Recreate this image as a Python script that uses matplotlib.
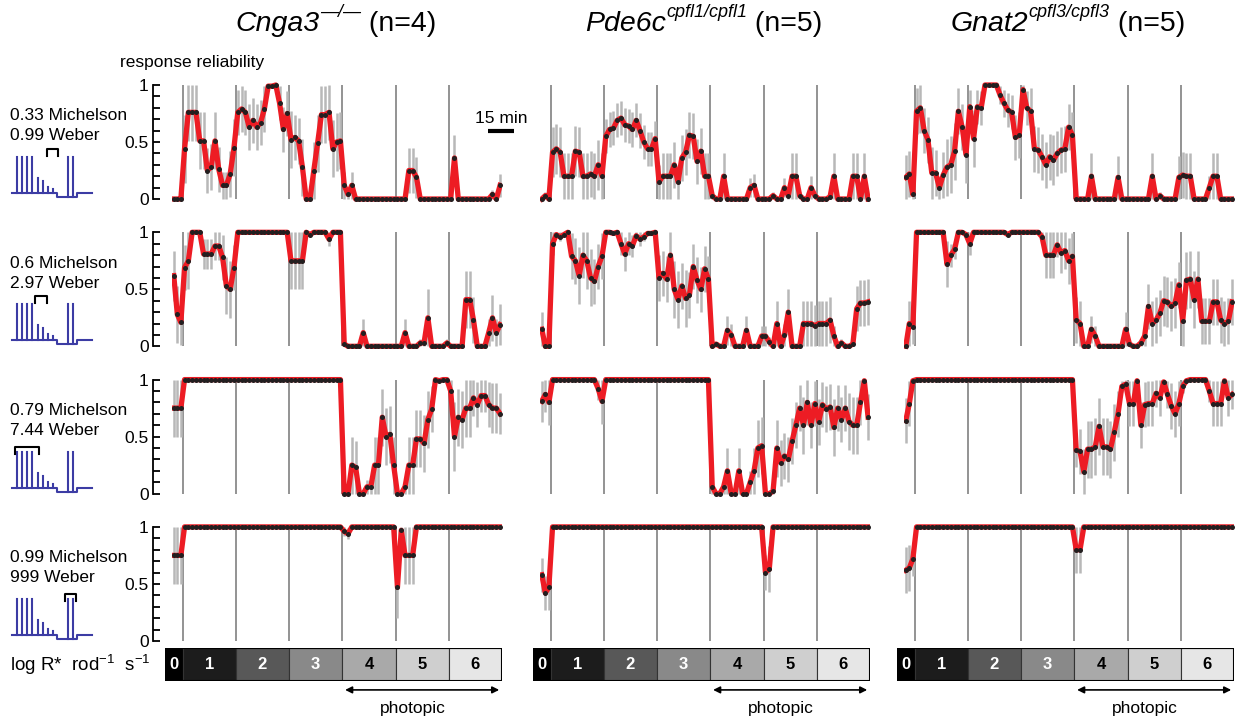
import numpy as np
import matplotlib
matplotlib.use('Agg')
import matplotlib.pyplot as plt
from matplotlib.patches import Rectangle

plt.rcParams['font.family'] = ['Liberation Sans', 'DejaVu Sans']
plt.rcParams['mathtext.fontset'] = 'custom'
plt.rcParams['mathtext.rm'] = 'Liberation Sans'
plt.rcParams['mathtext.it'] = 'Liberation Sans:italic'

# light levels (log R* rod-1 s-1) and minutes spent at each
levels = [0, 1, 2, 3, 4, 5, 6]
level_minutes = [6, 30, 30, 30, 30, 30, 30]
level_colors = ['#000000', '#1c1c1c', '#585858', '#898989', '#a9a9a9', '#cfcfcf', '#e6e6e6']
level_text = ['white', 'white', 'white', 'white', 'black', 'black', 'black']

genotypes = ['Cnga3', 'Pde6c', 'Gnat2']
superscripts = ['\u2014/\u2014', 'cpfl1/cpfl1', 'cpfl3/cpfl3']
n_animals = [4, 5, 5]
michelson = ['0.33', '0.6', '0.79', '0.99']
weber = ['0.99', '2.97', '7.44', '999']

ONES = [1, 1, 1, 1, 1, 1, 1, 1, 1, 1, 1, 1, 1, 1]
ZEROS = [0, 0, 0, 0, 0, 0, 0, 0, 0, 0, 0, 0, 0, 0]

# ---- response reliability, one list per light level ----
# row 1 : 0.33 Michelson
cnga3_rel_1 = [[0, 0, 0],
               [0.44, 0.76, 0.76, 0.76, 0.51, 0.51, 0.25, 0.28, 0.51, 0.26, 0.12, 0.12, 0.22, 0.45],
               [0.76, 0.79, 0.76, 0.63, 0.69, 0.63, 0.67, 0.79, 0.99, 0.99, 1.0, 0.84, 0.61, 0.75],
               [0.52, 0.54, 0.51, 0.28, 0, 0, 0.25, 0.49, 0.74, 0.74, 0.76, 0.44, 0.50, 0.51],
               [0.12, 0.04, 0.12, 0, 0, 0, 0, 0, 0, 0, 0, 0, 0, 0],
               [0, 0, 0, 0.25, 0.25, 0.19, 0, 0, 0, 0, 0, 0, 0, 0],
               [0, 0.36, 0, 0, 0, 0, 0, 0, 0, 0, 0, 0.04, 0, 0.12]]
cnga3_sem_1 = [[0, 0, 0],
               [0.3, 0.25, 0.25, 0.25, 0.25, 0.25, 0.2, 0.2, 0.25, 0.2, 0.12, 0.12, 0.2, 0.25],
               [0.2, 0.2, 0.2, 0.2, 0.2, 0.2, 0.2, 0.2, 0.02, 0.02, 0, 0.15, 0.2, 0.2],
               [0.25, 0.2, 0.2, 0.25, 0, 0, 0.25, 0.25, 0.25, 0.25, 0.24, 0.25, 0.25, 0.25],
               [0.12, 0.04, 0.12, 0, 0, 0, 0, 0, 0, 0, 0, 0, 0, 0],
               [0, 0, 0, 0.2, 0.2, 0.18, 0, 0, 0, 0, 0, 0, 0, 0],
               [0, 0.2, 0, 0, 0, 0, 0, 0, 0, 0, 0, 0.04, 0, 0.1]]
pde6c_rel_1 = [[0, 0.03, 0],
               [0.41, 0.44, 0.41, 0.2, 0.2, 0.2, 0.42, 0.41, 0.2, 0.2, 0.22, 0.2, 0.30, 0.2],
               [0.55, 0.61, 0.62, 0.69, 0.71, 0.65, 0.64, 0.61, 0.69, 0.60, 0.5, 0.44, 0.44, 0.53],
               [0.15, 0.2, 0.2, 0.2, 0.30, 0.15, 0.36, 0.41, 0.56, 0.55, 0.33, 0.42, 0.2, 0.2],
               [0.03, 0, 0, 0.2, 0, 0, 0, 0, 0, 0, 0.1, 0.12, 0, 0],
               [0, 0, 0.03, 0, 0, 0.1, 0.03, 0.2, 0.2, 0.03, 0, 0, 0.1, 0.03],
               [0, 0, 0, 0.02, 0.2, 0, 0, 0, 0, 0.2, 0.2, 0, 0.2, 0]]
pde6c_sem_1 = [[0, 0.03, 0],
               [0.22, 0.22, 0.22, 0.2, 0.2, 0.2, 0.22, 0.22, 0.2, 0.2, 0.2, 0.2, 0.22, 0.2],
               [0.15, 0.15, 0.15, 0.15, 0.15, 0.15, 0.15, 0.15, 0.15, 0.15, 0.15, 0.15, 0.15, 0.15],
               [0.15, 0.2, 0.2, 0.2, 0.2, 0.15, 0.2, 0.2, 0.2, 0.2, 0.2, 0.2, 0.2, 0.2],
               [0.03, 0, 0, 0.2, 0, 0, 0, 0, 0, 0, 0.08, 0.1, 0, 0],
               [0, 0, 0.03, 0, 0, 0.08, 0.03, 0.2, 0.2, 0.03, 0, 0, 0.1, 0.03],
               [0, 0, 0, 0.02, 0.2, 0, 0, 0, 0, 0.2, 0.2, 0, 0.2, 0]]
gnat2_rel_1 = [[0.19, 0.22, 0.04],
               [0.77, 0.80, 0.60, 0.52, 0.23, 0.23, 0.10, 0.21, 0.28, 0.30, 0.42, 0.77, 0.63, 0.39],
               [0.81, 0.53, 0.81, 0.80, 1.0, 1.0, 1.0, 1.0, 0.91, 0.84, 0.78, 0.76, 0.54, 0.56],
               [0.96, 0.80, 0.77, 0.44, 0.43, 0.37, 0.30, 0.37, 0.34, 0.40, 0.43, 0.44, 0.63, 0.56],
               [0, 0, 0, 0, 0.2, 0, 0, 0, 0, 0, 0, 0.19, 0, 0],
               [0, 0, 0, 0, 0, 0, 0.2, 0, 0.03, 0, 0, 0, 0, 0.19],
               [0.21, 0.2, 0.2, 0, 0, 0, 0, 0.1, 0.2, 0.2, 0, 0, 0, 0]]
gnat2_sem_1 = [[0.2, 0.2, 0.04],
               [0.2, 0.22, 0.2, 0.2, 0.23, 0.2, 0.1, 0.2, 0.25, 0.25, 0.25, 0.2, 0.2, 0.25],
               [0.15, 0.25, 0.15, 0.15, 0, 0, 0, 0, 0.08, 0.12, 0.15, 0.15, 0.2, 0.2],
               [0.04, 0.15, 0.2, 0.2, 0.2, 0.2, 0.2, 0.2, 0.22, 0.2, 0.2, 0.2, 0.2, 0.2],
               [0, 0, 0, 0, 0.2, 0, 0, 0, 0, 0, 0, 0.19, 0, 0],
               [0, 0, 0, 0, 0, 0, 0.2, 0, 0.03, 0, 0, 0, 0, 0.19],
               [0.2, 0.2, 0.2, 0, 0, 0, 0, 0.1, 0.2, 0.2, 0, 0, 0, 0]]

# row 2 : 0.6 Michelson
cnga3_rel_2 = [[0.62, 0.28, 0.21],
               [0.69, 0.75, 1.0, 1.0, 1.0, 0.81, 0.81, 0.81, 0.88, 0.88, 0.78, 0.53, 0.50, 0.69],
               ONES,
               [0.75, 0.75, 0.75, 0.75, 1.0, 0.98, 1, 1, 1, 1, 0.94, 1, 1, 1],
               [0.02, 0, 0, 0, 0, 0.12, 0, 0, 0, 0, 0, 0, 0, 0],
               [0, 0, 0.12, 0, 0, 0, 0.03, 0.03, 0.25, 0, 0, 0, 0, 0.03],
               [0, 0, 0, 0, 0.41, 0.41, 0.23, 0, 0, 0, 0.12, 0.25, 0.12, 0.19]]
cnga3_sem_2 = [[0.22, 0.25, 0.2],
               [0.2, 0.25, 0, 0, 0, 0.13, 0.13, 0.13, 0.12, 0.12, 0.2, 0.25, 0.25, 0.2],
               ZEROS,
               [0.25, 0.25, 0.25, 0.25, 0, 0.02, 0, 0, 0, 0, 0.06, 0, 0, 0],
               [0.02, 0, 0, 0, 0, 0.12, 0, 0, 0, 0, 0, 0, 0, 0],
               [0, 0, 0.12, 0, 0, 0, 0.03, 0.03, 0.25, 0, 0, 0, 0, 0.03],
               [0, 0, 0, 0, 0.25, 0.25, 0.2, 0, 0, 0, 0.12, 0.2, 0.12, 0.18]]
pde6c_rel_2 = [[0.15, 0, 0],
               [0.90, 0.98, 0.96, 0.98, 1.0, 0.79, 0.75, 0.62, 0.80, 0.75, 0.60, 0.57, 0.70, 0.79],
               [1.0, 1.0, 0.99, 1.0, 0.90, 0.81, 0.90, 0.88, 0.97, 0.94, 0.96, 0.99, 0.99, 1.0],
               [0.60, 0.64, 0.59, 0.80, 0.50, 0.41, 0.53, 0.42, 0.45, 0.70, 0.58, 0.50, 0.68, 0.59],
               [0, 0.02, 0, 0, 0.14, 0.10, 0, 0, 0, 0.14, 0, 0, 0, 0.09],
               [0.09, 0.04, 0, 0.2, 0, 0.1, 0.3, 0, 0, 0, 0.2, 0.2, 0.2, 0.18],
               [0.2, 0.2, 0.2, 0.23, 0.09, 0, 0.03, 0, 0, 0.02, 0.33, 0.38, 0.38, 0.39]]
pde6c_sem_2 = [[0.15, 0, 0],
               [0.1, 0.02, 0.04, 0.02, 0, 0.2, 0.2, 0.25, 0.2, 0.25, 0.25, 0.2, 0.2, 0.2],
               [0, 0, 0.01, 0, 0.1, 0.15, 0.1, 0.1, 0.03, 0.06, 0.04, 0.01, 0.01, 0],
               [0.2, 0.2, 0.2, 0.2, 0.25, 0.25, 0.2, 0.25, 0.2, 0.2, 0.2, 0.2, 0.2, 0.2],
               [0, 0.02, 0, 0, 0.13, 0.1, 0, 0, 0, 0.13, 0, 0, 0, 0.09],
               [0.09, 0.04, 0, 0.2, 0, 0.1, 0.2, 0, 0, 0, 0.2, 0.2, 0.2, 0.18],
               [0.2, 0.2, 0.2, 0.2, 0.09, 0, 0.03, 0, 0, 0.02, 0.2, 0.2, 0.2, 0.2]]
gnat2_rel_2 = [[0, 0.2, 0.17],
               [1, 1, 1, 1, 1, 1, 1, 1, 0.72, 0.80, 0.85, 1, 1, 0.98],
               [0.9, 1, 1, 1, 1, 1, 1, 1, 1, 1, 0.98, 1, 1, 1],
               [1, 1, 1, 1, 1, 0.96, 0.80, 0.80, 0.80, 0.89, 0.82, 0.84, 0.75, 0.79],
               [0.23, 0.2, 0, 0, 0.15, 0.09, 0, 0, 0, 0, 0, 0, 0, 0.15],
               [0.02, 0, 0, 0.03, 0.09, 0.35, 0.2, 0.23, 0.29, 0.40, 0.39, 0.35, 0.38, 0.54],
               [0.22, 0.58, 0.59, 0.41, 0.59, 0.22, 0.22, 0.22, 0.39, 0.39, 0.23, 0.20, 0.22, 0.39]]
gnat2_sem_2 = [[0, 0.2, 0.15],
               [0, 0, 0, 0, 0, 0, 0, 0, 0.2, 0.1, 0.08, 0, 0, 0.02],
               [0.1, 0, 0, 0, 0, 0, 0, 0, 0, 0, 0.02, 0, 0, 0],
               [0, 0, 0, 0, 0, 0.04, 0.2, 0.2, 0.2, 0.11, 0.18, 0.16, 0.2, 0.2],
               [0.2, 0.2, 0, 0, 0.12, 0.09, 0, 0, 0, 0, 0, 0, 0, 0.15],
               [0.02, 0, 0, 0.03, 0.09, 0.2, 0.2, 0.2, 0.2, 0.22, 0.22, 0.22, 0.22, 0.2],
               [0.22, 0.25, 0.25, 0.25, 0.25, 0.2, 0.2, 0.2, 0.2, 0.2, 0.2, 0.2, 0.2, 0.2]]

# row 3 : 0.79 Michelson
cnga3_rel_3 = [[0.75, 0.75, 0.75], ONES, ONES, ONES,
               [0, 0, 0.25, 0.23, 0, 0, 0.06, 0.06, 0.25, 0.25, 0.67, 0.50, 0.52, 0.25],
               [0, 0, 0.06, 0.25, 0.25, 0.48, 0.48, 0.44, 0.65, 0.74, 1.0, 0.99, 1.0, 1.0],
               [0.90, 0.50, 0.67, 0.65, 0.75, 0.75, 0.84, 0.78, 0.86, 0.86, 0.78, 0.75, 0.75, 0.70]]
cnga3_sem_3 = [[0.25, 0.25, 0.25], ZEROS, ZEROS, ZEROS,
               [0, 0, 0.25, 0.23, 0, 0, 0.06, 0.06, 0.25, 0.25, 0.25, 0.25, 0.25, 0.25],
               [0, 0, 0.06, 0.25, 0.25, 0.25, 0.25, 0.25, 0.25, 0.2, 0, 0.01, 0, 0],
               [0.1, 0.3, 0.25, 0.25, 0.25, 0.25, 0.16, 0.2, 0.14, 0.14, 0.2, 0.22, 0.22, 0.18]]
pde6c_rel_3 = [[0.81, 0.87, 0.80],
               [1, 1, 1, 1, 1, 1, 1, 1, 1, 1, 1, 1, 0.92, 0.81],
               ONES, ONES,
               [0.06, 0, 0, 0.06, 0.2, 0, 0, 0.2, 0, 0, 0.10, 0.2, 0.40, 0.42],
               [0, 0, 0.02, 0.40, 0.27, 0.33, 0.30, 0.46, 0.60, 0.75, 0.60, 0.80, 0.60, 0.79],
               [0.63, 0.78, 0.74, 0.76, 0.58, 0.75, 0.65, 0.75, 0.63, 0.60, 0.60, 0.80, 0.99, 0.67]]
pde6c_sem_3 = [[0.18, 0.15, 0.2],
               [0, 0, 0, 0, 0, 0, 0, 0, 0, 0, 0, 0, 0.1, 0.2],
               ZEROS, ZEROS,
               [0.06, 0, 0, 0.06, 0.2, 0, 0, 0.2, 0, 0, 0.1, 0.2, 0.25, 0.25],
               [0, 0, 0.02, 0.25, 0.2, 0.2, 0.2, 0.2, 0.2, 0.2, 0.25, 0.2, 0.2, 0.2],
               [0.2, 0.2, 0.2, 0.2, 0.25, 0.2, 0.2, 0.2, 0.25, 0.25, 0.25, 0.2, 0.01, 0.2]]
gnat2_rel_3 = [[0.64, 0.79, 0.99], ONES, ONES, ONES,
               [0.38, 0.37, 0.19, 0.39, 0.39, 0.41, 0.59, 0.41, 0.41, 0.39, 0.54, 0.70, 0.94, 0.96],
               [0.79, 0.79, 0.99, 0.60, 0.78, 0.79, 0.79, 0.88, 0.84, 0.98, 0.87, 0.77, 0.70, 0.79],
               [0.94, 0.99, 1, 1, 1, 1, 1, 0.90, 0.79, 0.79, 0.79, 0.99, 0.84, 0.87]]
gnat2_sem_3 = [[0.2, 0.2, 0.01], ZEROS, ZEROS, ZEROS,
               [0.15, 0.2, 0.2, 0.25, 0.25, 0.25, 0.25, 0.25, 0.25, 0.25, 0.25, 0.2, 0.05, 0.04],
               [0.2, 0.2, 0.01, 0.2, 0.2, 0.2, 0.2, 0.12, 0.16, 0.02, 0.12, 0.2, 0.2, 0.2],
               [0.06, 0.01, 0, 0, 0, 0, 0, 0.1, 0.2, 0.2, 0.2, 0.01, 0.16, 0.13]]

# row 4 : 0.99 Michelson
cnga3_rel_4 = [[0.75, 0.75, 0.75], ONES, ONES, ONES,
               [0.96, 0.94, 1, 1, 1, 1, 1, 1, 1, 1, 1, 1, 1, 1],
               [0.47, 0.97, 0.75, 0.75, 0.75, 1, 1, 1, 1, 1, 1, 1, 1, 1],
               ONES]
cnga3_sem_4 = [[0.25, 0.25, 0.25], ZEROS, ZEROS, ZEROS,
               [0.04, 0.05, 0, 0, 0, 0, 0, 0, 0, 0, 0, 0, 0, 0],
               [0.27, 0.03, 0.25, 0.25, 0.25, 0, 0, 0, 0, 0, 0, 0, 0, 0],
               ZEROS]
pde6c_rel_4 = [[0.58, 0.42, 0.47], ONES, ONES, ONES, ONES,
               [0.60, 0.63, 1, 1, 1, 1, 1, 1, 1, 1, 1, 1, 1, 1],
               ONES]
pde6c_sem_4 = [[0.15, 0.15, 0.2], ZEROS, ZEROS, ZEROS, ZEROS,
               [0.15, 0.2, 0, 0, 0, 0, 0, 0, 0, 0, 0, 0, 0, 0],
               ZEROS]
gnat2_rel_4 = [[0.62, 0.64, 0.72], ONES, ONES, ONES,
               [0.80, 0.80, 1, 1, 1, 1, 1, 1, 1, 1, 1, 1, 1, 1],
               ONES, ONES]
gnat2_sem_4 = [[0.2, 0.2, 0.15], ZEROS, ZEROS, ZEROS,
               [0.2, 0.2, 0, 0, 0, 0, 0, 0, 0, 0, 0, 0, 0, 0],
               ZEROS, ZEROS]

reliability = [[cnga3_rel_1, pde6c_rel_1, gnat2_rel_1],
               [cnga3_rel_2, pde6c_rel_2, gnat2_rel_2],
               [cnga3_rel_3, pde6c_rel_3, gnat2_rel_3],
               [cnga3_rel_4, pde6c_rel_4, gnat2_rel_4]]
sem = [[cnga3_sem_1, pde6c_sem_1, gnat2_sem_1],
       [cnga3_sem_2, pde6c_sem_2, gnat2_sem_2],
       [cnga3_sem_3, pde6c_sem_3, gnat2_sem_3],
       [cnga3_sem_4, pde6c_sem_4, gnat2_sem_4]]

edges = np.concatenate([[0], np.cumsum(level_minutes)])
T_END = edges[-1]


def unpack(segs, errs):
    # spread the bins of each light level evenly over its time window
    t, v, e = [], [], []
    for k, (s, d) in enumerate(zip(segs, errs)):
        n = len(s)
        t += list(edges[k] + (np.arange(n) + 0.5) * level_minutes[k] / n)
        v += list(s)
        e += list(d)
    return np.array(t), np.array(v), np.array(e)


# figure in pixel layout
W, H = 1239, 720
fig = plt.figure(figsize=(W / 100, H / 100), dpi=100)

col_left = [172, 540, 904]
col_w = 330
px_per_min = col_w / T_END
row_top = [85 + 147.3 * r for r in range(4)]   # pixel of reliability = 1
unit_h = 114.0
pad = 5.0


def rect(x0, y0, w, h):
    return [x0 / W, 1 - (y0 + h) / H, w / W, h / H]


# overlay for free text and stimulus icons
ov = fig.add_axes([0, 0, 1, 1], zorder=-1)
ov.set_xlim(0, W)
ov.set_ylim(H, 0)
ov.axis('off')

for r in range(4):
    for c in range(3):
        ax = fig.add_axes(rect(col_left[c], row_top[r] - pad, col_w, unit_h + 2 * pad))
        ax.set_xlim(0, T_END)
        ax.set_ylim(-pad / unit_h, 1 + pad / unit_h)
        ax.patch.set_alpha(0)
        for s in ['top', 'right', 'bottom']:
            ax.spines[s].set_visible(False)
        ax.set_xticks([])

        t, v, e = unpack(reliability[r][c], sem[r][c])
        ax.vlines(edges[1:-1], 0, 1, color='#8a8a8a', lw=1.3, zorder=1)
        ax.vlines(t, np.clip(v - e, 0, 1), np.clip(v + e, 0, 1), color='#b8b8b8', lw=1.8, zorder=2)
        ax.plot(t, v, color='#ed1c24', lw=3.8, solid_joinstyle='round', zorder=3)
        ax.plot(t, v, 'o', ms=3.6, color='#231f20', mec='none', zorder=4)

        if c == 0:
            ax.spines['left'].set_position(('axes', (153 - 172) / col_w))
            ax.spines['left'].set_bounds(0, 1)
            ax.spines['left'].set_linewidth(1.3)
            ax.set_yticks([0, 0.5, 1])
            ax.set_yticklabels(['0', '0.5', '1'], fontsize=12.5)
            ax.set_yticks(np.arange(0, 1.01, 0.1), minor=True)
            ax.tick_params(axis='y', which='both', direction='in', length=5, width=1.3, pad=3)
        else:
            ax.spines['left'].set_visible(False)
            ax.set_yticks([])

        if r == 0 and c == 0:
            ax.plot([178, 193], [0.6, 0.6], color='black', lw=3, solid_capstyle='butt', clip_on=False)
            ax.text(185.5, 0.71, '15 min', ha='center', va='center', fontsize=12.5)

    # stimulus labels and icon
    ov.text(10, 116 + 147.3 * r, michelson[r] + ' Michelson', fontsize=12.5, va='center')
    ov.text(10, 136 + 147.3 * r, weber[r] + ' Weber', fontsize=12.5, va='center')
    y0 = 193 + 147.3 * r
    blue = '#3c3ca4'
    ov.plot([12, 57, 57, 77, 77, 92], [y0, y0, y0 + 4, y0 + 4, y0, y0], color=blue, lw=1.5)
    for fx, fh in zip([17, 22, 27, 32, 38, 43, 48, 53], [36, 36, 36, 36, 15, 12, 6, 4]):
        ov.plot([fx, fx], [y0, y0 - fh], color=blue, lw=1.5)
    for fx in [68, 73]:
        ov.plot([fx, fx], [y0 + 4, y0 - 36], color=blue, lw=1.5)
    bx = [(47, 58), (35, 47), (15, 39), (65, 76)][r]
    by = y0 - [44, 44, 41, 41][r]
    ov.plot([bx[0], bx[0], bx[1], bx[1]], [by + 7, by, by, by + 7], color='black', lw=1.5)

# titles: italic gene name, italic superscript allele, plain animal count
title_parts = []
for c in range(3):
    t1 = ov.text(0, 24, genotypes[c], fontstyle='italic', fontsize=20.5, va='center', ha='left')
    t2 = ov.annotate(superscripts[c], xy=(1, 0.6), xycoords=t1, fontstyle='italic',
                     fontsize=13, va='bottom', ha='left')
    t3 = ov.annotate(' (n=%d)' % n_animals[c], xy=(1, 0), xycoords=(t2, t1),
                     fontsize=20.5, va='bottom', ha='left')
    title_parts.append((t1, t2, t3))

ov.text(120, 62, 'response reliability', fontsize=12.5, va='center')
ov.text(10, 665, r'log R*  rod$^{-1}$  s$^{-1}$', fontsize=13.5, va='center')

# light level bars and photopic range
for c in range(3):
    lo = -4
    cb = fig.add_axes(rect(col_left[c] + lo * px_per_min, 648, (T_END - lo) * px_per_min, 33))
    cb.set_xlim(lo, T_END)
    cb.set_ylim(0, 1)
    cb.axis('off')
    for k, lev in enumerate(levels):
        x0 = lo if k == 0 else edges[k]
        x1 = edges[k + 1]
        cb.add_patch(Rectangle((x0, 0), x1 - x0, 1, facecolor=level_colors[k],
                               edgecolor='#333333', lw=0.8))
        cb.text((x0 + x1) / 2, 0.5, str(lev), color=level_text[k], ha='center', va='center',
                fontsize=12, fontweight='bold')
    cb.add_patch(Rectangle((lo, 0), T_END - lo, 1, fill=False, edgecolor='black', lw=1.5))
    tr = cb.get_xaxis_transform()
    cb.annotate('', xy=(edges[4], -0.27), xytext=(T_END, -0.27), xycoords=tr, textcoords=tr,
                arrowprops=dict(arrowstyle='<|-|>', color='black', lw=1.2, mutation_scale=10),
                annotation_clip=False)
    cb.text((edges[4] + T_END) / 2 - 5, -0.82, 'photopic', transform=tr, ha='center',
            va='center', fontsize=12.5)

# centre each title over its column
fig.canvas.draw()
for c, (t1, t2, t3) in enumerate(title_parts):
    x_a = t1.get_window_extent().x0
    x_b = t3.get_window_extent().x1
    centre = col_left[c] + col_w / 2 - 1
    t1.set_x(centre - (x_b - x_a) / 2)

fig.savefig('out.png', dpi=100)
